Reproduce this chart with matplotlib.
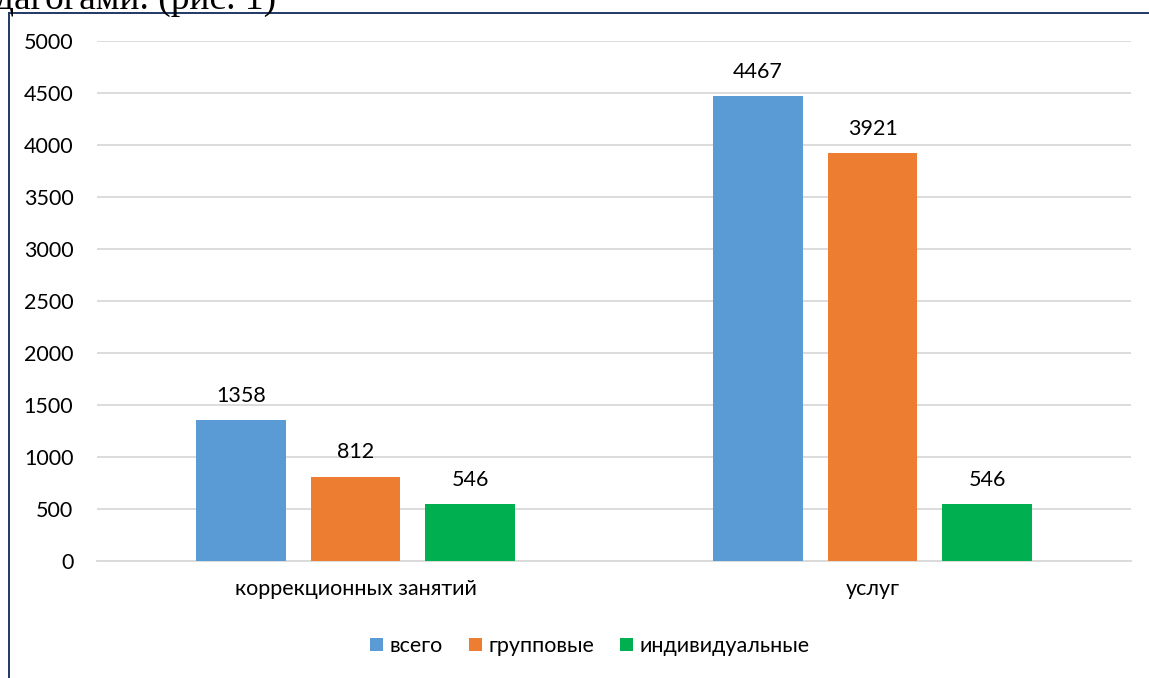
import numpy as np
import matplotlib.pyplot as plt
from matplotlib.lines import Line2D

# data
categories = ['коррекционных занятий', 'услуг']
series_names = ['всего', 'групповые', 'индивидуальные']
vsego = [1358, 4467]
gruppovye = [812, 3921]
individ = [546, 546]
colors = ['#5B9BD5', '#ED7D31', '#00B050']

plt.rcParams['font.family'] = ['Lato', 'DejaVu Sans']
fs = 15.5

fig = plt.figure(figsize=(11.49, 6.78), dpi=100)
ax = fig.add_axes([97/1149, 1-561/678, (1131-97)/1149, (561-41)/678])

x = np.arange(len(categories))
w = 0.174
step = 0.2215
series = [vsego, gruppovye, individ]
for i, (vals, name) in enumerate(zip(series, series_names)):
    bars = ax.bar(x + (i-1)*step, vals, width=w, color=colors[i], label=name, zorder=3)
    for b, v in zip(bars, vals):
        ax.annotate(str(v), (b.get_x()+b.get_width()/2, v), xytext=(0, 13),
                    textcoords='offset points', ha='center', va='baseline',
                    fontsize=fs, color='#000000')

ax.set_xlim(-0.5, 1.5)
ax.set_ylim(0, 5000)
ax.set_yticks(np.arange(0, 5001, 500))
ax.set_xticks(x)
ax.set_xticklabels(categories)
ax.yaxis.grid(True, color='#D9D9D9', lw=1.3, zorder=0)
ax.set_axisbelow(True)
for s in ['top', 'right', 'left']:
    ax.spines[s].set_visible(False)
ax.spines['bottom'].set_color('#D9D9D9')
ax.spines['bottom'].set_linewidth(1.3)
ax.tick_params(axis='y', length=0, pad=17, labelsize=fs, labelcolor='#000000')
ax.tick_params(axis='x', length=0, pad=13, labelsize=fs, labelcolor='#000000')

fig.legend(loc='center', bbox_to_anchor=(590/1149, 1-646/678), ncol=3, frameon=False,
           fontsize=fs, handlelength=0.6, handleheight=0.6, handletextpad=0.3,
           columnspacing=1.2)

# border of the chart frame (only left and top visible)
fig.add_artist(Line2D([8.5/1149, 8.5/1149], [0, 1-12.5/678], color='#1F3864', lw=1.4))
fig.add_artist(Line2D([8.5/1149, 1], [1-12.5/678, 1-12.5/678], color='#1F3864', lw=1.4))

# cut-off text of the document above the chart
fig.text(-0.004, 1-9/678, 'дагогами. (рис. 1)', family='Liberation Serif',
         fontsize=27, va='baseline', ha='left')

fig.savefig('out.png', dpi=100)
